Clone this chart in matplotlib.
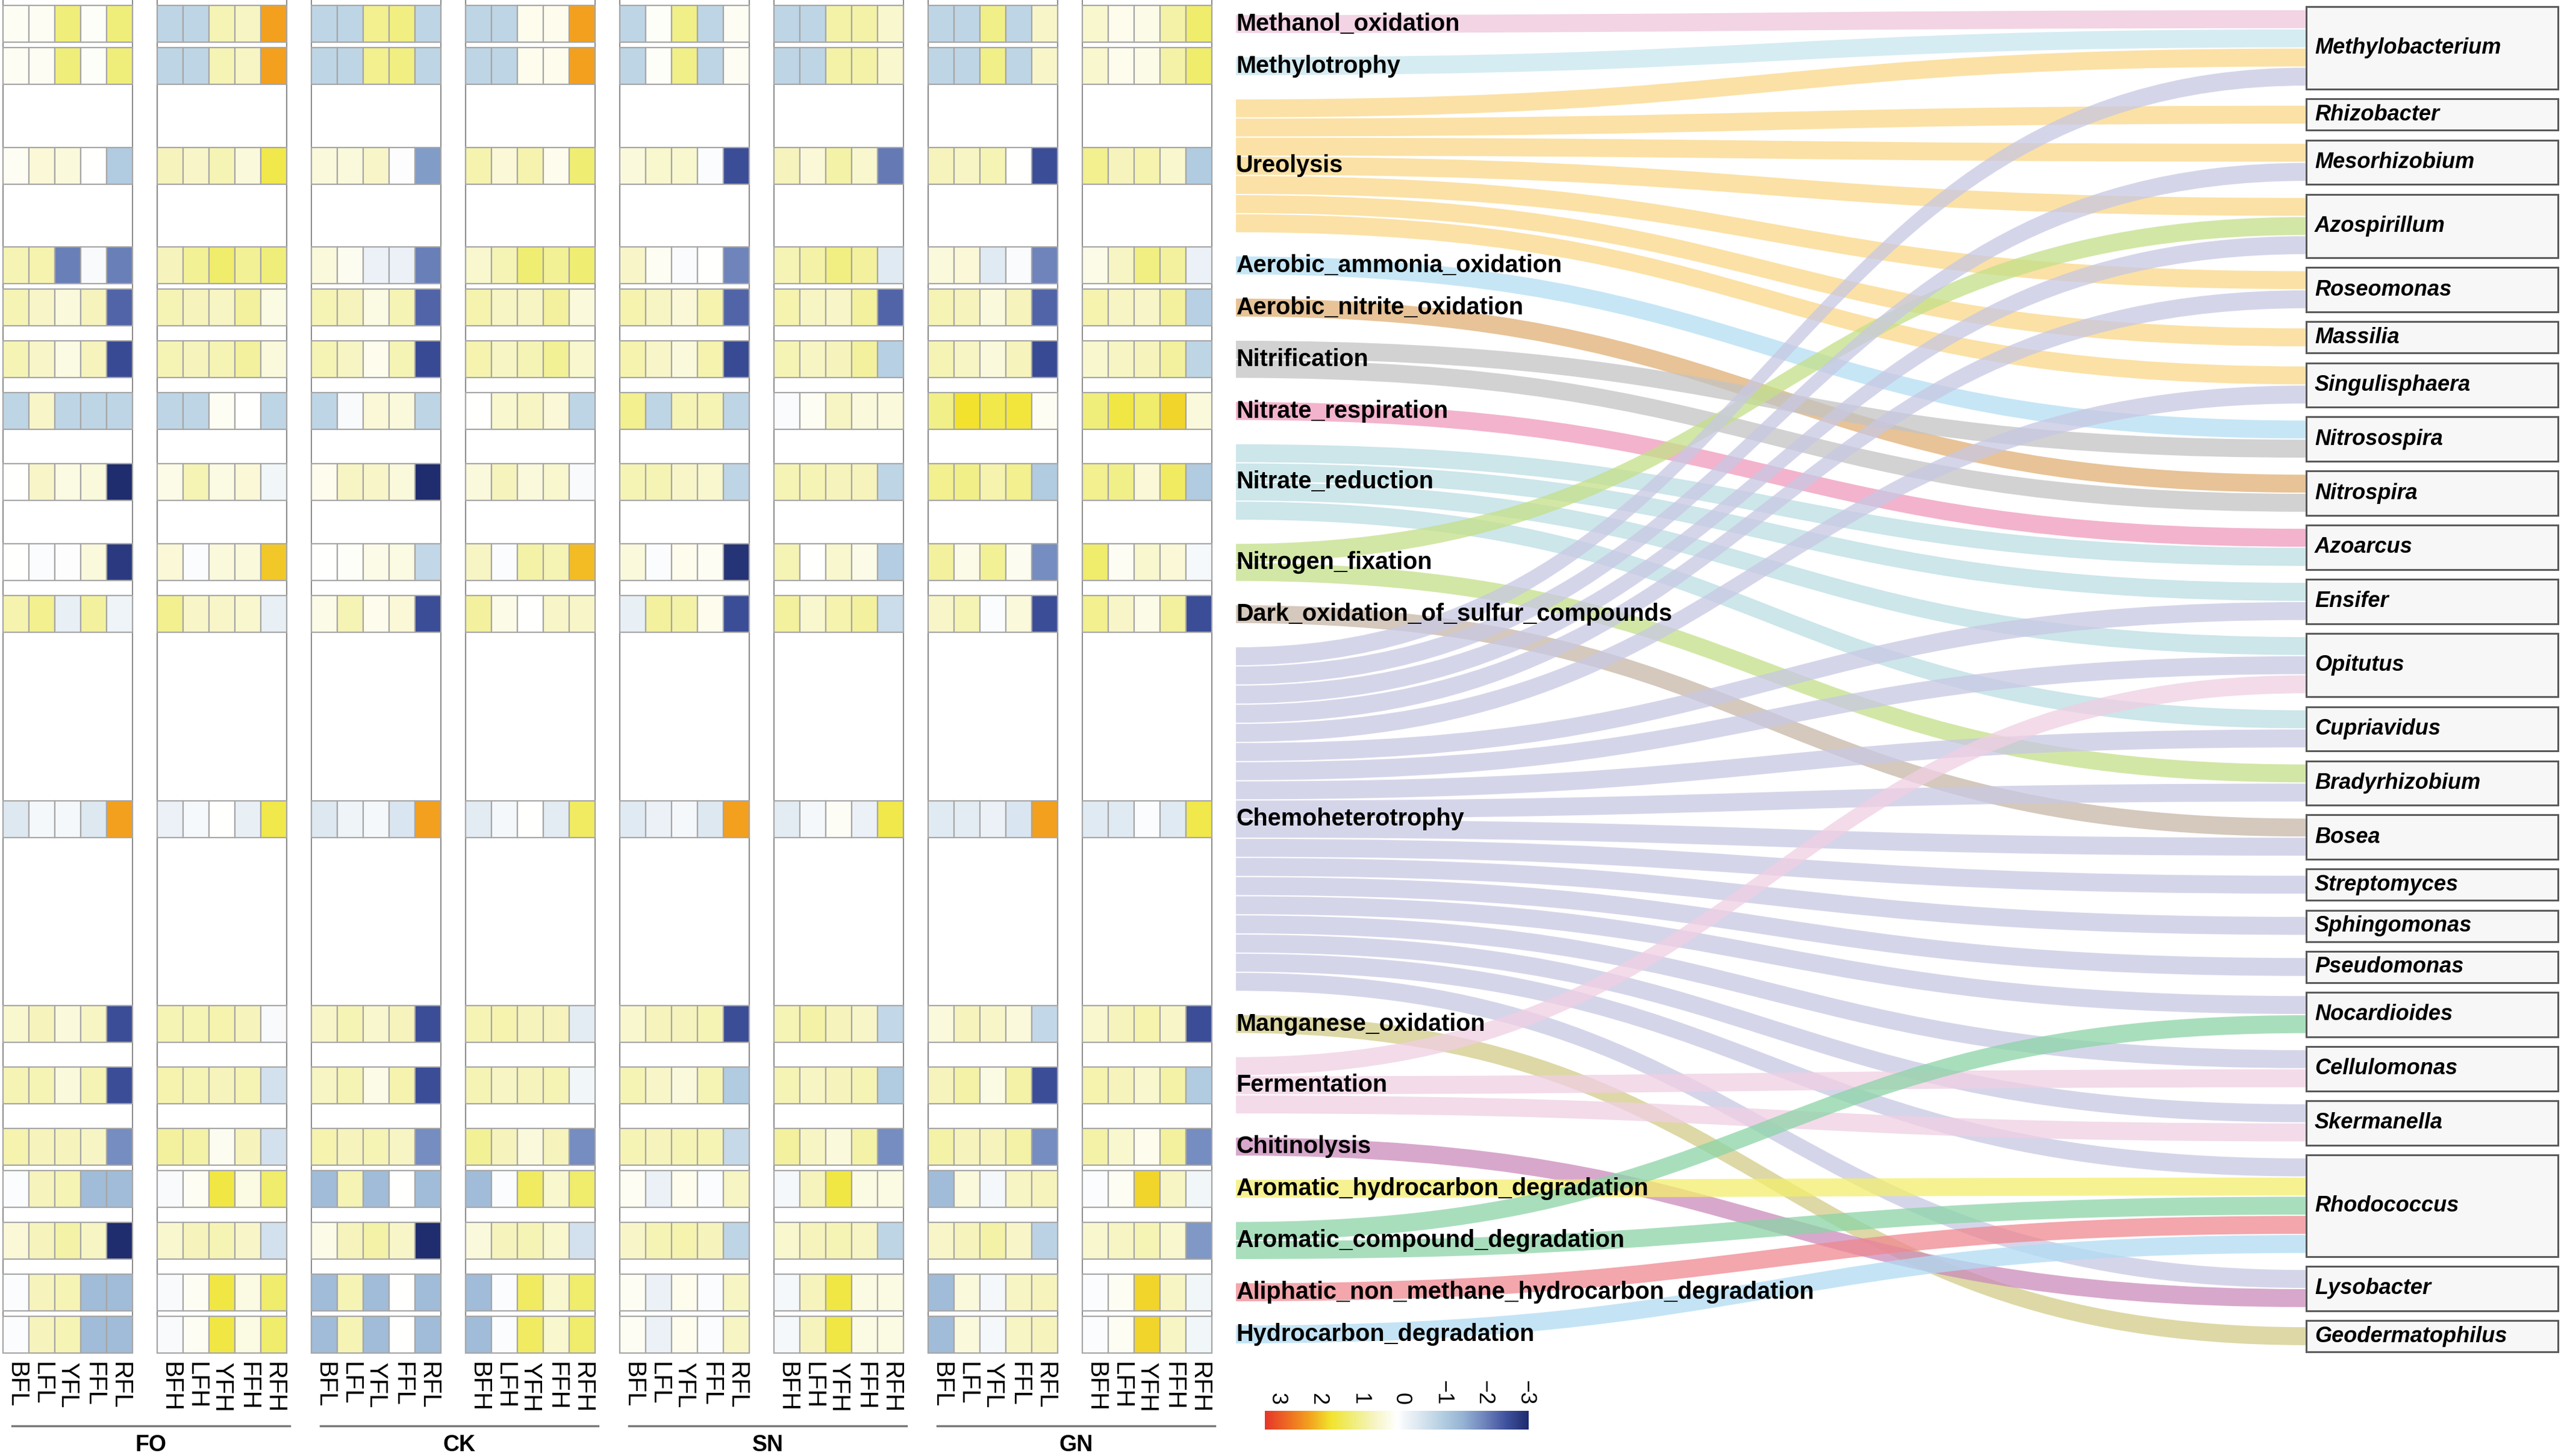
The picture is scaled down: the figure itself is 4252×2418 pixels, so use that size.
import numpy as np
import matplotlib.pyplot as plt
from matplotlib.colors import LinearSegmentedColormap, Normalize, to_rgb
from matplotlib.path import Path
from matplotlib.patches import PathPatch, Rectangle

plt.rcParams['font.family'] = ['Liberation Sans', 'DejaVu Sans']

# ---- data ----
functions = ['Methanol_oxidation', 'Methylotrophy', 'Ureolysis', 'Aerobic_ammonia_oxidation',
             'Aerobic_nitrite_oxidation', 'Nitrification', 'Nitrate_respiration', 'Nitrate_reduction',
             'Nitrogen_fixation', 'Dark_oxidation_of_sulfur_compounds', 'Chemoheterotrophy',
             'Manganese_oxidation', 'Fermentation', 'Chitinolysis', 'Aromatic_hydrocarbon_degradation',
             'Aromatic_compound_degradation', 'Aliphatic_non_methane_hydrocarbon_degradation',
             'Hydrocarbon_degradation']

func_colors = ['#f2d4e4', '#d6ecf2', '#fbe2a6', '#c6e6f6', '#e8c397', '#d3d3d3', '#f3b3cc', '#cce6ea',
               '#d3e8a6', '#d6c8bd', '#d6d6ea', '#ddd9a6', '#f4dbea', '#d8a8cc', '#f6f291', '#a9dfbd',
               '#f3a6ac', '#c4e5f6']

genera = ['Methylobacterium', 'Rhizobacter', 'Mesorhizobium', 'Azospirillum', 'Roseomonas', 'Massilia',
          'Singulisphaera', 'Nitrosospira', 'Nitrospira', 'Azoarcus', 'Ensifer', 'Opitutus', 'Cupriavidus',
          'Bradyrhizobium', 'Bosea', 'Streptomyces', 'Sphingomonas', 'Pseudomonas', 'Nocardioides',
          'Cellulomonas', 'Skermanella', 'Rhodococcus', 'Lysobacter', 'Geodermatophilus']

# function -> genus links
links = [
    ('Methanol_oxidation', 'Methylobacterium'),
    ('Methylotrophy', 'Methylobacterium'),
    ('Ureolysis', 'Methylobacterium'), ('Ureolysis', 'Rhizobacter'), ('Ureolysis', 'Mesorhizobium'),
    ('Ureolysis', 'Azospirillum'), ('Ureolysis', 'Roseomonas'), ('Ureolysis', 'Massilia'),
    ('Ureolysis', 'Singulisphaera'),
    ('Aerobic_ammonia_oxidation', 'Nitrosospira'),
    ('Aerobic_nitrite_oxidation', 'Nitrospira'),
    ('Nitrification', 'Nitrosospira'), ('Nitrification', 'Nitrospira'),
    ('Nitrate_respiration', 'Azoarcus'),
    ('Nitrate_reduction', 'Azoarcus'), ('Nitrate_reduction', 'Ensifer'), ('Nitrate_reduction', 'Opitutus'),
    ('Nitrate_reduction', 'Cupriavidus'),
    ('Nitrogen_fixation', 'Azospirillum'), ('Nitrogen_fixation', 'Bradyrhizobium'),
    ('Dark_oxidation_of_sulfur_compounds', 'Bosea'),
    ('Chemoheterotrophy', 'Methylobacterium'), ('Chemoheterotrophy', 'Mesorhizobium'),
    ('Chemoheterotrophy', 'Azospirillum'), ('Chemoheterotrophy', 'Roseomonas'),
    ('Chemoheterotrophy', 'Singulisphaera'), ('Chemoheterotrophy', 'Ensifer'),
    ('Chemoheterotrophy', 'Opitutus'), ('Chemoheterotrophy', 'Cupriavidus'),
    ('Chemoheterotrophy', 'Bradyrhizobium'), ('Chemoheterotrophy', 'Bosea'),
    ('Chemoheterotrophy', 'Streptomyces'), ('Chemoheterotrophy', 'Sphingomonas'),
    ('Chemoheterotrophy', 'Pseudomonas'), ('Chemoheterotrophy', 'Nocardioides'),
    ('Chemoheterotrophy', 'Cellulomonas'), ('Chemoheterotrophy', 'Skermanella'),
    ('Chemoheterotrophy', 'Rhodococcus'), ('Chemoheterotrophy', 'Lysobacter'),
    ('Manganese_oxidation', 'Geodermatophilus'),
    ('Fermentation', 'Opitutus'), ('Fermentation', 'Cellulomonas'), ('Fermentation', 'Skermanella'),
    ('Chitinolysis', 'Lysobacter'),
    ('Aromatic_hydrocarbon_degradation', 'Rhodococcus'),
    ('Aromatic_compound_degradation', 'Nocardioides'), ('Aromatic_compound_degradation', 'Rhodococcus'),
    ('Aliphatic_non_methane_hydrocarbon_degradation', 'Rhodococcus'),
    ('Hydrocarbon_degradation', 'Rhodococcus'),
]

groups = ['FO', 'CK', 'SN', 'GN']
col_labels_L = ['BFL', 'LFL', 'YFL', 'FFL', 'RFL']
col_labels_H = ['BFH', 'LFH', 'YFH', 'FFH', 'RFH']

# heatmap values, one row per function (same order as functions)
fo_l = [[0.1, 0.1, 1.0, 0.05, 1.0], [0.1, 0.1, 1.0, 0.05, 1.0], [0.1, 0.35, 0.3, 0.0, -1.1],
        [0.6, 0.65, -2.05, -0.1, -2.05], [0.6, 0.45, 0.3, 0.55, -2.3], [0.6, 0.45, 0.25, 0.55, -2.6],
        [-0.9, 0.45, -0.9, -0.9, -0.9], [0.0, 0.45, 0.25, 0.3, -3.0], [0.02, -0.05, -0.03, 0.3, -2.8],
        [0.65, 0.85, -0.35, 0.75, -0.25], [-0.5, -0.15, -0.15, -0.5, 2.0], [0.4, 0.55, 0.3, 0.5, -2.55],
        [0.6, 0.6, 0.3, 0.6, -2.55], [0.65, 0.55, 0.55, 0.5, -1.9], [-0.05, 0.55, 0.6, -1.35, -1.35],
        [0.35, 0.55, 0.7, 0.5, -3.0], [-0.05, 0.55, 0.6, -1.35, -1.35], [-0.05, 0.55, 0.6, -1.35, -1.35]]
fo_h = [[-0.9, -0.9, 0.6, 0.5, 2.0], [-0.9, -0.9, 0.6, 0.5, 2.0], [0.55, 0.45, 0.6, 0.3, 1.3],
        [0.55, 0.8, 1.1, 0.8, 1.0], [0.6, 0.55, 0.5, 0.75, 0.25], [0.6, 0.55, 0.6, 0.75, 0.3],
        [-0.9, -0.9, 0.1, 0.0, -0.9], [0.2, 0.6, 0.25, 0.35, -0.2], [0.35, -0.05, 0.3, 0.3, 1.7],
        [0.85, 0.45, 0.45, 0.4, -0.35], [-0.3, -0.12, 0.0, -0.35, 1.3], [0.6, 0.6, 0.65, 0.55, -0.1],
        [0.65, 0.6, 0.55, 0.6, -0.65], [0.75, 0.7, 0.12, 0.55, -0.65], [-0.1, 0.1, 1.35, 0.25, 1.1],
        [0.4, 0.55, 0.6, 0.45, -0.65], [-0.1, 0.1, 1.35, 0.25, 1.1], [-0.1, 0.1, 1.35, 0.25, 1.1]]
ck_l = [[-0.9, -0.9, 0.85, 0.95, -0.9], [-0.9, -0.9, 0.85, 0.95, -0.9], [0.3, 0.3, 0.45, -0.03, -1.75],
        [0.3, 0.12, -0.3, -0.3, -2.05], [0.6, 0.55, 0.25, 0.6, -2.3], [0.6, 0.5, 0.15, 0.6, -2.6],
        [-0.9, -0.1, 0.35, 0.3, -0.9], [0.15, 0.5, 0.45, 0.3, -3.0], [0.02, 0.05, 0.2, 0.25, -0.85],
        [0.2, 0.6, 0.15, 0.35, -2.55], [-0.5, -0.25, -0.15, -0.55, 2.0], [0.45, 0.6, 0.4, 0.55, -2.55],
        [0.5, 0.6, 0.2, 0.65, -2.55], [0.65, 0.55, 0.6, 0.5, -1.9], [-1.35, 0.6, -1.35, 0.0, -1.35],
        [0.2, 0.55, 0.7, 0.45, -3.0], [-1.35, 0.6, -1.35, 0.0, -1.35], [-1.35, 0.6, -1.35, 0.0, -1.35]]
ck_h = [[-0.9, -0.9, 0.15, 0.15, 2.0], [-0.9, -0.9, 0.15, 0.15, 2.0], [0.65, 0.35, 0.65, 0.15, 1.05],
        [0.4, 0.6, 1.05, 0.8, 1.05], [0.65, 0.5, 0.5, 0.75, 0.3], [0.65, 0.5, 0.6, 0.8, 0.4],
        [0.0, 0.4, 0.5, 0.35, -0.9], [0.3, 0.55, 0.3, 0.4, -0.1], [0.5, -0.05, 0.7, 0.6, 1.8],
        [0.75, 0.2, 0.0, 0.45, 0.45], [-0.4, -0.15, 0.0, -0.4, 1.15], [0.6, 0.65, 0.55, 0.55, -0.4],
        [0.6, 0.5, 0.55, 0.6, -0.2], [0.8, 0.55, 0.3, 0.55, -1.9], [-1.35, -0.05, 1.15, 0.4, 1.1],
        [0.3, 0.55, 0.6, 0.4, -0.65], [-1.35, -0.05, 1.15, 0.4, 1.1], [-1.35, -0.05, 1.15, 0.4, 1.1]]
sn_l = [[-0.9, 0.05, 0.9, -0.9, 0.1], [-0.9, 0.05, 0.9, -0.9, 0.1], [0.3, 0.4, 0.4, -0.05, -2.55],
        [0.45, 0.1, -0.08, 0.0, -2.0], [0.65, 0.5, 0.35, 0.65, -2.3], [0.65, 0.45, 0.3, 0.65, -2.6],
        [0.85, -0.9, 0.6, 0.6, -0.9], [0.6, 0.6, 0.45, 0.4, -0.9], [0.3, -0.07, 0.15, 0.1, -2.9],
        [-0.35, 0.75, 0.7, 0.15, -2.55], [-0.45, -0.3, -0.15, -0.5, 2.0], [0.4, 0.55, 0.55, 0.6, -2.55],
        [0.6, 0.45, 0.3, 0.6, -1.1], [0.6, 0.55, 0.6, 0.6, -0.8], [0.1, -0.3, 0.15, -0.05, 0.5],
        [0.45, 0.6, 0.65, 0.55, -0.9], [0.1, -0.3, 0.15, -0.05, 0.5], [0.1, -0.3, 0.15, -0.05, 0.5]]
sn_h = [[-0.9, -0.9, 0.7, 0.7, 0.4], [-0.9, -0.9, 0.7, 0.7, 0.4], [0.55, 0.35, 0.7, 0.4, -2.1],
        [0.6, 0.7, 0.95, 0.75, -0.45], [0.65, 0.5, 0.45, 0.75, -2.3], [0.6, 0.5, 0.55, 0.75, -1.0],
        [-0.08, 0.1, 0.5, 0.3, 0.3], [0.6, 0.6, 0.55, 0.55, -0.9], [0.6, 0.0, 0.4, 0.2, -1.05],
        [0.75, 0.4, 0.65, 0.75, -0.75], [-0.4, -0.15, 0.08, -0.3, 1.3], [0.6, 0.7, 0.55, 0.45, -0.85],
        [0.6, 0.5, 0.55, 0.6, -1.1], [0.75, 0.5, 0.3, 0.7, -1.9], [-0.15, 0.55, 1.35, 0.25, 0.25],
        [0.4, 0.55, 0.6, 0.5, -0.9], [-0.15, 0.55, 1.35, 0.25, 0.25], [-0.15, 0.55, 1.35, 0.25, 0.25]]
gn_l = [[-0.9, -0.9, 0.9, -0.9, 0.45], [-0.9, -0.9, 0.9, -0.9, 0.45], [0.55, 0.5, 0.6, 0.0, -2.55],
        [0.3, 0.35, -0.45, -0.08, -2.0], [0.6, 0.55, 0.3, 0.55, -2.3], [0.6, 0.5, 0.3, 0.55, -2.6],
        [0.9, 1.5, 1.3, 1.4, 0.1], [0.85, 0.9, 0.65, 0.85, -1.1], [0.75, 0.2, 0.8, 0.12, -1.9],
        [0.45, 0.6, -0.07, 0.3, -2.55], [-0.45, -0.4, -0.3, -0.55, 2.0], [0.3, 0.55, 0.45, 0.3, -0.85],
        [0.55, 0.7, 0.25, 0.7, -2.55], [0.7, 0.55, 0.55, 0.7, -1.9], [-1.35, 0.3, -0.15, 0.5, 0.55],
        [0.45, 0.55, 0.7, 0.45, -0.95], [-1.35, 0.3, -0.15, 0.5, 0.55], [-1.35, 0.3, -0.15, 0.5, 0.55]]
gn_h = [[0.4, 0.15, 0.2, 0.7, 1.1], [0.4, 0.15, 0.2, 0.7, 1.1], [0.85, 0.55, 0.65, 0.4, -1.1],
        [0.2, 0.5, 0.95, 0.75, -0.3], [0.65, 0.5, 0.45, 0.75, -1.0], [0.4, 0.5, 0.55, 0.75, -0.9],
        [1.0, 1.35, 1.1, 1.6, 0.3], [0.85, 0.9, 0.35, 1.15, -1.1], [1.1, 0.1, 0.4, 0.35, -0.12],
        [0.85, 0.45, 0.2, 0.75, -2.55], [-0.45, -0.45, -0.07, -0.45, 1.3], [0.4, 0.55, 0.65, 0.45, -2.55],
        [0.65, 0.55, 0.4, 0.7, -1.1], [0.7, 0.4, 0.15, 0.75, -1.9], [-0.05, 0.1, 1.6, 0.5, -0.2],
        [0.4, 0.5, 0.6, 0.4, -1.8], [-0.05, 0.1, 1.6, 0.5, -0.2], [-0.05, 0.1, 1.6, 0.5, -0.2]]

panels = [fo_l, fo_h, ck_l, ck_h, sn_l, sn_h, gn_l, gn_h]

cbar_ticks = [3, 2, 1, 0, -1, -2, -3]

# ---- colour scale ----
cmap = LinearSegmentedColormap.from_list('heat', [
    (0.0, '#1f2c6e'), (1 / 12, '#3f519d'), (2 / 12, '#6f85bc'), (3 / 12, '#96b4d4'),
    (4 / 12, '#b7d0e3'), (5 / 12, '#dde8f1'), (6 / 12, '#ffffff'), (7 / 12, '#f7f5c4'),
    (8 / 12, '#f0ee7a'), (9 / 12, '#f2e42e'), (10 / 12, '#f3a11f'), (11 / 12, '#ee6a22'),
    (1.0, '#e6372a')])
norm = Normalize(-3, 3)

# ---- figure ----
W, H = 4252, 2418
fig = plt.figure(figsize=(W / 100, H / 100), dpi=100)
ax = fig.add_axes([0, 0, 1, 1])

# sankey layout (pixel units)
u = 31.8
xl, xr, xbox_r = 2052, 3829, 4247
n_left = [sum(1 for f, g in links if f == fn) for fn in functions]
n_right = [sum(1 for f, g in links if g == gn) for gn in genera]

top_l, bot_l = 24, 2232
gap_l = (bot_l - top_l - len(links) * u) / (len(functions) - 1)
left_top = []
y = top_l
for n in n_left:
    left_top.append(y)
    y += n * u + gap_l
left_center = [t + n * u / 2 for t, n in zip(left_top, n_left)]

box_h = [max(n * u + 10, 52) for n in n_right]
top_r, bot_r = 11, 2245
gap_r = (bot_r - top_r - sum(box_h)) / (len(genera) - 1)
box_top = []
y = top_r
for h in box_h:
    box_top.append(y)
    y += h + gap_r

# link slots
fi = {f: i for i, f in enumerate(functions)}
gi = {g: i for i, g in enumerate(genera)}
left_slot = {}
for i, fn in enumerate(functions):
    mine = sorted([l for l in links if l[0] == fn], key=lambda l: gi[l[1]])
    for k, l in enumerate(mine):
        left_slot[l] = left_top[i] + k * u
right_slot = {}
for j, gn in enumerate(genera):
    mine = sorted([l for l in links if l[1] == gn], key=lambda l: fi[l[0]])
    start = box_top[j] + (box_h[j] - len(mine) * u) / 2
    for k, l in enumerate(mine):
        right_slot[l] = start + k * u

alpha = 0.75
xm = (xl + xr) / 2
pad = 1.0
for l in links:
    c = np.array(to_rgb(func_colors[fi[l[0]]]))
    base = np.clip(1 - (1 - c) / alpha, 0, 1)
    y0a, y0b = left_slot[l] + pad, left_slot[l] + u - pad
    y1a, y1b = right_slot[l] + pad, right_slot[l] + u - pad
    verts = [(xl, y0a), (xm, y0a), (xm, y1a), (xr, y1a), (xr, y1b),
             (xm, y1b), (xm, y0b), (xl, y0b), (xl, y0a)]
    codes = [Path.MOVETO, Path.CURVE4, Path.CURVE4, Path.CURVE4, Path.LINETO,
             Path.CURVE4, Path.CURVE4, Path.CURVE4, Path.CLOSEPOLY]
    ax.add_patch(PathPatch(Path(verts, codes), facecolor=base, edgecolor='none', alpha=alpha, zorder=2))

for i, fn in enumerate(functions):
    ax.text(xl, left_center[i], fn, fontsize=28.5, fontweight='bold', ha='left', va='center', zorder=5)

for j, gn in enumerate(genera):
    ax.add_patch(Rectangle((xr, box_top[j]), xbox_r - xr, box_h[j], facecolor='#f7f7f7',
                           edgecolor='#5a5a5a', linewidth=2.2, zorder=3))
    ax.text(xr + 14, box_top[j] + box_h[j] / 2, gn, fontsize=26, fontweight='bold', fontstyle='italic',
            ha='left', va='center', zorder=5)

# heatmap
cell_w, row_h = 43, 61
panel_left = [5 + 256 * p for p in range(8)]
for p, data in enumerate(panels):
    x0 = panel_left[p]
    ax.plot([x0, x0], [0, 2247], color='#8c8c8c', lw=1.5, zorder=1)
    ax.plot([x0 + 5 * cell_w, x0 + 5 * cell_w], [0, 2247], color='#8c8c8c', lw=1.5, zorder=1)
    for r, row in enumerate(data):
        for c, v in enumerate(row):
            ax.add_patch(Rectangle((x0 + c * cell_w, left_center[r] - row_h / 2), cell_w, row_h,
                                   facecolor=cmap(norm(v)), edgecolor='#a6a6a6', linewidth=1.6, zorder=2))
    labs = col_labels_L if p % 2 == 0 else col_labels_H
    for c, lab in enumerate(labs):
        ax.text(x0 + (c + 0.5) * cell_w, 2262, lab, fontsize=30, rotation=-90,
                ha='center', va='top', zorder=5)

for g, name in enumerate(groups):
    xa = panel_left[2 * g] + 15
    xb = panel_left[2 * g + 1] + 5 * cell_w + 5
    ax.plot([xa, xb], [2368, 2368], color='#777777', lw=2.5)
    ax.text((xa + xb) / 2, 2400, name, fontsize=27, fontweight='bold', ha='center', va='center')

# colour bar
cb_x0, cb_x1, cb_y0, cb_y1 = 2100, 2538, 2343, 2374
grad = np.linspace(3, -3, 256).reshape(1, -1)
ax.imshow(grad, cmap=cmap, norm=norm, extent=[cb_x0, cb_x1, cb_y1, cb_y0], aspect='auto', zorder=2)
tick_x = np.linspace(cb_x0 + 20, cb_x1 - 5, len(cbar_ticks))
for tx, tv in zip(tick_x, cbar_ticks):
    ax.text(tx, cb_y0 - 10, f'{tv:d}'.replace('-', '\u2212'), fontsize=26, rotation=-90,
            ha='center', va='bottom')

ax.set_xlim(0, W)
ax.set_ylim(H, 0)
ax.axis('off')
fig.savefig('out.png', dpi=100, facecolor='white')
